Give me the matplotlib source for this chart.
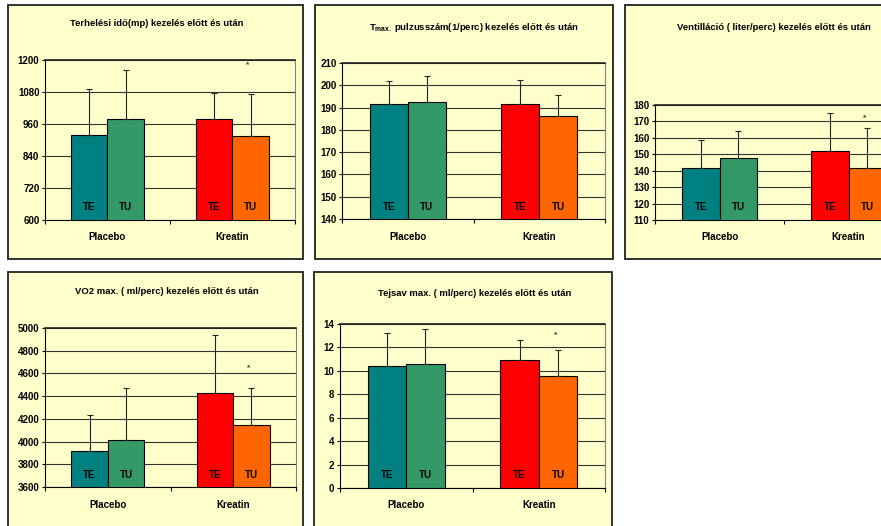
import matplotlib.pyplot as plt
from matplotlib.patches import Rectangle

# Betűtípus beállítások (Arial-szerű, félkövér)
plt.rcParams['font.family'] = ['Liberation Sans', 'DejaVu Sans']
plt.rcParams['font.weight'] = 'bold'
plt.rcParams['font.size'] = 7
plt.rcParams['mathtext.fontset'] = 'custom'
plt.rcParams['mathtext.rm'] = 'Liberation Sans:bold'
plt.rcParams['mathtext.bf'] = 'Liberation Sans:bold'
plt.rcParams['mathtext.it'] = 'Liberation Sans:bold'

W, H = 881, 526

csoportok = ['Placebo', 'Kreatin']
oszlop_cimkek = ['TE', 'TU']
szinek = [['#008080', '#339966'], ['#FF0000', '#FF6600']]

# Terhelési idő (mp) - [Placebo, Kreatin]
terheles_te = [919, 977]
terheles_tu = [977, 916]
terheles_te_sd = [171, 100]
terheles_tu_sd = [184, 155]
terheles_csillag = 1181
terheles_yticks = [600, 720, 840, 960, 1080, 1200]

# Tmax pulzusszám (1/perc)
pulzus_te = [191.6, 191.6]
pulzus_tu = [192.4, 186.4]
pulzus_te_sd = [10.2, 10.9]
pulzus_tu_sd = [11.9, 9.1]
pulzus_csillag = None
pulzus_yticks = [140, 150, 160, 170, 180, 190, 200, 210]

# Ventilláció (liter/perc)
vent_te = [141.5, 152.2]
vent_tu = [147.5, 141.9]
vent_te_sd = [17.4, 23.1]
vent_tu_sd = [16.9, 23.9]
vent_csillag = 172.3
vent_yticks = [110, 120, 130, 140, 150, 160, 170, 180]

# VO2 max (ml/perc)
vo2_te = [3917, 4428]
vo2_tu = [4011, 4149]
vo2_te_sd = [320, 507]
vo2_tu_sd = [464, 326]
vo2_csillag = 4648
vo2_yticks = [3600, 3800, 4000, 4200, 4400, 4600, 4800, 5000]

# Tejsav max
tejsav_te = [10.44, 10.95]
tejsav_tu = [10.61, 9.58]
tejsav_te_sd = [2.82, 1.65]
tejsav_tu_sd = [2.93, 2.22]
tejsav_csillag = 13.06
tejsav_yticks = [0, 2, 4, 6, 8, 10, 12, 14]

fig = plt.figure(figsize=(W / 100, H / 100), dpi=100)
fig.patch.set_facecolor('white')


def keret(l, t, r, b):
    return [l / W, 1 - b / H, (r - l) / W, (b - t) / H]


def panel(frame, axbox, cim, cim_xy, te, tu, te_sd, tu_sd, yticks, csillag):
    fl, ft, fr, fb = frame
    fig.add_artist(Rectangle((fl / W, 1 - fb / H), (fr - fl) / W, (fb - ft) / H,
                             transform=fig.transFigure, facecolor='#FFFFCC',
                             edgecolor='#222222', lw=1.3, zorder=-1))
    fig.text(cim_xy[0] / W, 1 - cim_xy[1] / H, cim, ha='center', va='center', fontsize=6.8)

    ax = fig.add_axes(keret(*axbox))
    ax.set_facecolor('#FFFFCC')
    x = [0, 1]
    w = 0.29
    x_te = [i - w / 2 for i in x]
    x_tu = [i + w / 2 for i in x]
    ax.bar(x_te, te, w, color=[szinek[0][0], szinek[1][0]], edgecolor='black', lw=0.8, zorder=3)
    ax.bar(x_tu, tu, w, color=[szinek[0][1], szinek[1][1]], edgecolor='black', lw=0.8, zorder=3)
    ax.errorbar(x_te, te, yerr=[[0, 0], te_sd], fmt='none', ecolor='#222222',
                elinewidth=0.8, capsize=2, capthick=0.8, zorder=4)
    ax.errorbar(x_tu, tu, yerr=[[0, 0], tu_sd], fmt='none', ecolor='#222222',
                elinewidth=0.8, capsize=2, capthick=0.8, zorder=4)

    # TE / TU feliratok az oszlopok alján
    for i in x:
        ax.annotate(oszlop_cimkek[0], xy=(x_te[i], 0), xycoords=('data', 'axes fraction'),
                    xytext=(0, 9), textcoords='offset points', ha='center', va='center', zorder=5)
        ax.annotate(oszlop_cimkek[1], xy=(x_tu[i], 0), xycoords=('data', 'axes fraction'),
                    xytext=(0, 9), textcoords='offset points', ha='center', va='center', zorder=5)

    # szignifikancia jel
    if csillag is not None:
        ax.annotate('*', xy=(x_tu[1], csillag), xytext=(-2, 0), textcoords='offset points',
                    ha='center', va='center', fontsize=6, color='#333333', zorder=5)

    ax.set_xlim(-0.5, 1.5)
    ax.set_ylim(yticks[0], yticks[-1])
    ax.set_yticks(yticks)
    ax.set_yticklabels([str(v) for v in yticks])
    ax.set_xticks([-0.5, 0.5, 1.5])
    ax.set_xticklabels([])
    ax.set_xticks(x, minor=True)
    ax.set_xticklabels(csoportok, minor=True)
    ax.tick_params(axis='x', which='major', length=3, width=0.8, direction='out')
    ax.tick_params(axis='x', which='minor', length=0, pad=9)
    ax.tick_params(axis='y', length=2.5, width=0.8, pad=1.5)

    ax.yaxis.grid(True, color='#333333', lw=0.8)
    ax.set_axisbelow(True)
    for s in ('left', 'bottom'):
        ax.spines[s].set_color('black')
        ax.spines[s].set_linewidth(0.8)
    ax.spines['top'].set_color('#222222')
    ax.spines['top'].set_linewidth(1.2)
    ax.spines['right'].set_color('#808080')
    ax.spines['right'].set_linewidth(0.8)
    return ax


panel((8, 5, 303, 259), (45, 60, 295, 220),
      'Terhelési idő(mp) kezelés előtt és után', (157, 23),
      terheles_te, terheles_tu, terheles_te_sd, terheles_tu_sd, terheles_yticks, terheles_csillag)

panel((315, 5, 613, 259), (342, 63, 605, 219),
      r'T$_{\rm max.}$ pulzusszám(1/perc) kezelés előtt és után', (474, 28),
      pulzus_te, pulzus_tu, pulzus_te_sd, pulzus_tu_sd, pulzus_yticks, pulzus_csillag)

panel((625, 5, 921, 259), (655, 105, 913, 220),
      'Ventilláció ( liter/perc) kezelés előtt és után', (774, 27),
      vent_te, vent_tu, vent_te_sd, vent_tu_sd, vent_yticks, vent_csillag)

panel((8, 272, 303, 540), (45, 328, 296, 487),
      'VO2 max. ( ml/perc) kezelés előtt és után', (167, 292),
      vo2_te, vo2_tu, vo2_te_sd, vo2_tu_sd, vo2_yticks, vo2_csillag)

panel((314, 272, 612, 540), (340, 324, 605, 488),
      'Tejsav max. ( ml/perc) kezelés előtt és után', (475, 294),
      tejsav_te, tejsav_tu, tejsav_te_sd, tejsav_tu_sd, tejsav_yticks, tejsav_csillag)

fig.savefig('out.png', dpi=100)
